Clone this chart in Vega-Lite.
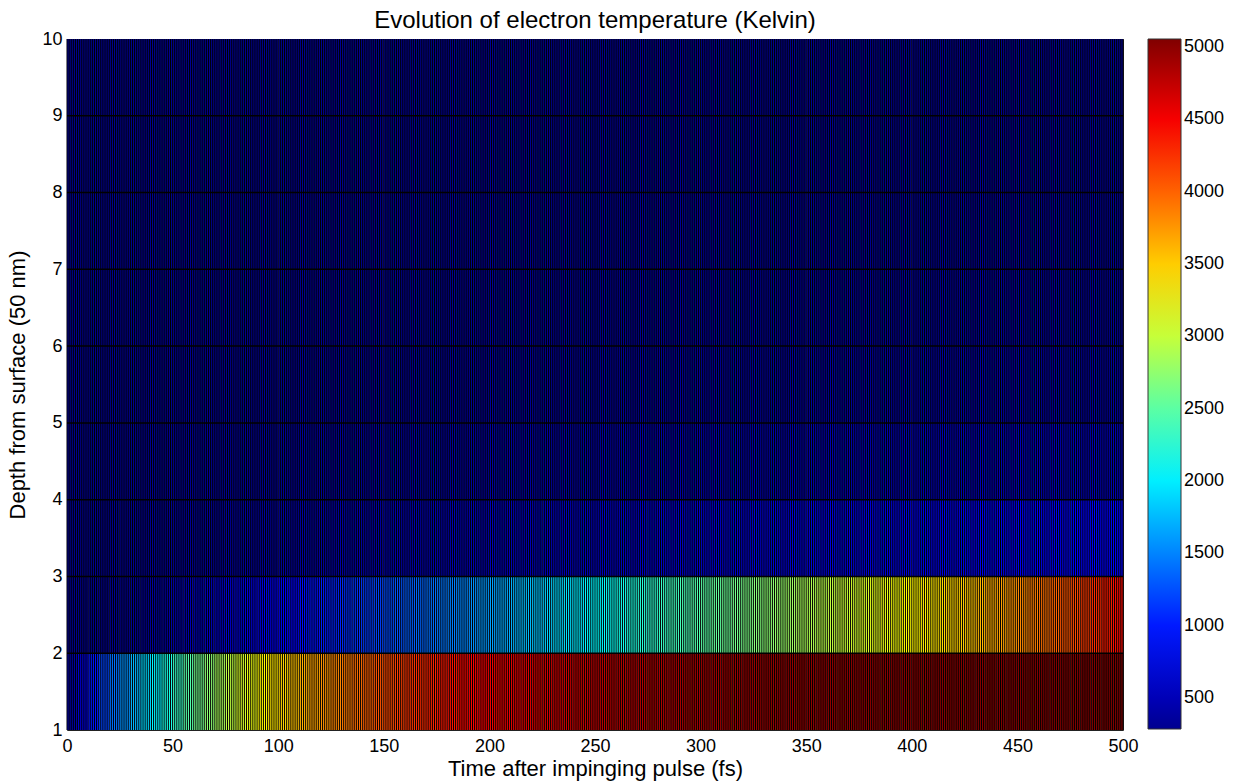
{
"$schema": "https://vega.github.io/schema/vega-lite/v6.json",
"autosize": {"type": "none"},
"width": 1056,
"height": 691,
"padding": {"left": 67, "top": 39, "right": 115, "bottom": 54},
"background": "white",
"config": {
  "view": {"stroke": "#222", "strokeWidth": 1},
  "font": "Liberation Sans",
  "axis": {"labelFont": "Liberation Sans", "titleFont": "Liberation Sans", "labelColor": "#000", "titleColor": "#000", "titleFontWeight": "normal", "grid": false, "ticks": false, "domain": false}
},
"title": {"text": "Evolution of electron temperature (Kelvin)", "fontSize": 24, "fontWeight": "normal", "font": "Liberation Sans", "color": "#000", "offset": -3},
"datasets": {
  "cells": [
{"t":0,"e":5,"d":1,"f":2,"v":430},{"t":5,"e":10,"d":1,"f":2,"v":700},{"t":10,"e":15,"d":1,"f":2,"v":975},{"t":15,"e":20,"d":1,"f":2,"v":1200},{"t":20,"e":25,"d":1,"f":2,"v":1390},
{"t":25,"e":30,"d":1,"f":2,"v":1565},{"t":30,"e":35,"d":1,"f":2,"v":1730},{"t":35,"e":40,"d":1,"f":2,"v":1885},{"t":40,"e":45,"d":1,"f":2,"v":2035},{"t":45,"e":50,"d":1,"f":2,"v":2185},
{"t":50,"e":55,"d":1,"f":2,"v":2330},{"t":55,"e":60,"d":1,"f":2,"v":2470},{"t":60,"e":65,"d":1,"f":2,"v":2605},{"t":65,"e":70,"d":1,"f":2,"v":2730},{"t":70,"e":75,"d":1,"f":2,"v":2850},
{"t":75,"e":80,"d":1,"f":2,"v":2965},{"t":80,"e":85,"d":1,"f":2,"v":3075},{"t":85,"e":90,"d":1,"f":2,"v":3180},{"t":90,"e":95,"d":1,"f":2,"v":3280},{"t":95,"e":100,"d":1,"f":2,"v":3375},
{"t":100,"e":105,"d":1,"f":2,"v":3460},{"t":105,"e":110,"d":1,"f":2,"v":3550},{"t":110,"e":115,"d":1,"f":2,"v":3625},{"t":115,"e":120,"d":1,"f":2,"v":3695},{"t":120,"e":125,"d":1,"f":2,"v":3765},
{"t":125,"e":130,"d":1,"f":2,"v":3830},{"t":130,"e":135,"d":1,"f":2,"v":3890},{"t":135,"e":140,"d":1,"f":2,"v":3950},{"t":140,"e":145,"d":1,"f":2,"v":4010},{"t":145,"e":150,"d":1,"f":2,"v":4065},
{"t":150,"e":155,"d":1,"f":2,"v":4115},{"t":155,"e":160,"d":1,"f":2,"v":4165},{"t":160,"e":165,"d":1,"f":2,"v":4215},{"t":165,"e":170,"d":1,"f":2,"v":4260},{"t":170,"e":175,"d":1,"f":2,"v":4300},
{"t":175,"e":180,"d":1,"f":2,"v":4340},{"t":180,"e":185,"d":1,"f":2,"v":4380},{"t":185,"e":190,"d":1,"f":2,"v":4420},{"t":190,"e":195,"d":1,"f":2,"v":4460},{"t":195,"e":200,"d":1,"f":2,"v":4495},
{"t":200,"e":205,"d":1,"f":2,"v":4525},{"t":205,"e":210,"d":1,"f":2,"v":4550},{"t":210,"e":215,"d":1,"f":2,"v":4580},{"t":215,"e":220,"d":1,"f":2,"v":4605},{"t":220,"e":225,"d":1,"f":2,"v":4630},
{"t":225,"e":230,"d":1,"f":2,"v":4655},{"t":230,"e":235,"d":1,"f":2,"v":4675},{"t":235,"e":240,"d":1,"f":2,"v":4700},{"t":240,"e":245,"d":1,"f":2,"v":4720},{"t":245,"e":250,"d":1,"f":2,"v":4740},
{"t":250,"e":255,"d":1,"f":2,"v":4755},{"t":255,"e":260,"d":1,"f":2,"v":4770},{"t":260,"e":265,"d":1,"f":2,"v":4790},{"t":265,"e":270,"d":1,"f":2,"v":4805},{"t":270,"e":275,"d":1,"f":2,"v":4820},
{"t":275,"e":280,"d":1,"f":2,"v":4835},{"t":280,"e":285,"d":1,"f":2,"v":4845},{"t":285,"e":290,"d":1,"f":2,"v":4860},{"t":290,"e":295,"d":1,"f":2,"v":4870},{"t":295,"e":300,"d":1,"f":2,"v":4885},
{"t":300,"e":305,"d":1,"f":2,"v":4895},{"t":305,"e":310,"d":1,"f":2,"v":4905},{"t":310,"e":315,"d":1,"f":2,"v":4915},{"t":315,"e":320,"d":1,"f":2,"v":4925},{"t":320,"e":325,"d":1,"f":2,"v":4930},
{"t":325,"e":330,"d":1,"f":2,"v":4940},{"t":330,"e":335,"d":1,"f":2,"v":4945},{"t":335,"e":340,"d":1,"f":2,"v":4955},{"t":340,"e":345,"d":1,"f":2,"v":4960},{"t":345,"e":350,"d":1,"f":2,"v":4965},
{"t":350,"e":355,"d":1,"f":2,"v":4970},{"t":355,"e":360,"d":1,"f":2,"v":4975},{"t":360,"e":365,"d":1,"f":2,"v":4980},{"t":365,"e":370,"d":1,"f":2,"v":4985},{"t":370,"e":375,"d":1,"f":2,"v":4990},
{"t":375,"e":380,"d":1,"f":2,"v":4990},{"t":380,"e":385,"d":1,"f":2,"v":4995},{"t":385,"e":390,"d":1,"f":2,"v":5000},{"t":390,"e":395,"d":1,"f":2,"v":5005},{"t":395,"e":400,"d":1,"f":2,"v":5010},
{"t":400,"e":405,"d":1,"f":2,"v":5010},{"t":405,"e":410,"d":1,"f":2,"v":5015},{"t":410,"e":415,"d":1,"f":2,"v":5015},{"t":415,"e":420,"d":1,"f":2,"v":5020},{"t":420,"e":425,"d":1,"f":2,"v":5025},
{"t":425,"e":430,"d":1,"f":2,"v":5025},{"t":430,"e":435,"d":1,"f":2,"v":5030},{"t":435,"e":440,"d":1,"f":2,"v":5030},{"t":440,"e":445,"d":1,"f":2,"v":5035},{"t":445,"e":450,"d":1,"f":2,"v":5035},
{"t":450,"e":455,"d":1,"f":2,"v":5040},{"t":455,"e":460,"d":1,"f":2,"v":5040},{"t":460,"e":465,"d":1,"f":2,"v":5045},{"t":465,"e":470,"d":1,"f":2,"v":5045},{"t":470,"e":475,"d":1,"f":2,"v":5045},
{"t":475,"e":480,"d":1,"f":2,"v":5050},{"t":480,"e":485,"d":1,"f":2,"v":5050},{"t":485,"e":490,"d":1,"f":2,"v":5050},{"t":490,"e":495,"d":1,"f":2,"v":5055},{"t":495,"e":500,"d":1,"f":2,"v":5055},
{"t":0,"e":5,"d":2,"f":3,"v":300},{"t":5,"e":10,"d":2,"f":3,"v":305},{"t":10,"e":15,"d":2,"f":3,"v":310},{"t":15,"e":20,"d":2,"f":3,"v":315},{"t":20,"e":25,"d":2,"f":3,"v":320},
{"t":25,"e":30,"d":2,"f":3,"v":335},{"t":30,"e":35,"d":2,"f":3,"v":350},{"t":35,"e":40,"d":2,"f":3,"v":370},{"t":40,"e":45,"d":2,"f":3,"v":395},{"t":45,"e":50,"d":2,"f":3,"v":420},
{"t":50,"e":55,"d":2,"f":3,"v":460},{"t":55,"e":60,"d":2,"f":3,"v":495},{"t":60,"e":65,"d":2,"f":3,"v":535},{"t":65,"e":70,"d":2,"f":3,"v":575},{"t":70,"e":75,"d":2,"f":3,"v":615},
{"t":75,"e":80,"d":2,"f":3,"v":660},{"t":80,"e":85,"d":2,"f":3,"v":700},{"t":85,"e":90,"d":2,"f":3,"v":740},{"t":90,"e":95,"d":2,"f":3,"v":780},{"t":95,"e":100,"d":2,"f":3,"v":820},
{"t":100,"e":105,"d":2,"f":3,"v":860},{"t":105,"e":110,"d":2,"f":3,"v":895},{"t":110,"e":115,"d":2,"f":3,"v":930},{"t":115,"e":120,"d":2,"f":3,"v":965},{"t":120,"e":125,"d":2,"f":3,"v":1000},
{"t":125,"e":130,"d":2,"f":3,"v":1040},{"t":130,"e":135,"d":2,"f":3,"v":1080},{"t":135,"e":140,"d":2,"f":3,"v":1115},{"t":140,"e":145,"d":2,"f":3,"v":1155},{"t":145,"e":150,"d":2,"f":3,"v":1190},
{"t":150,"e":155,"d":2,"f":3,"v":1230},{"t":155,"e":160,"d":2,"f":3,"v":1270},{"t":160,"e":165,"d":2,"f":3,"v":1310},{"t":165,"e":170,"d":2,"f":3,"v":1350},{"t":170,"e":175,"d":2,"f":3,"v":1390},
{"t":175,"e":180,"d":2,"f":3,"v":1430},{"t":180,"e":185,"d":2,"f":3,"v":1470},{"t":185,"e":190,"d":2,"f":3,"v":1510},{"t":190,"e":195,"d":2,"f":3,"v":1550},{"t":195,"e":200,"d":2,"f":3,"v":1590},
{"t":200,"e":205,"d":2,"f":3,"v":1630},{"t":205,"e":210,"d":2,"f":3,"v":1675},{"t":210,"e":215,"d":2,"f":3,"v":1720},{"t":215,"e":220,"d":2,"f":3,"v":1765},{"t":220,"e":225,"d":2,"f":3,"v":1805},
{"t":225,"e":230,"d":2,"f":3,"v":1850},{"t":230,"e":235,"d":2,"f":3,"v":1895},{"t":235,"e":240,"d":2,"f":3,"v":1940},{"t":240,"e":245,"d":2,"f":3,"v":1985},{"t":245,"e":250,"d":2,"f":3,"v":2025},
{"t":250,"e":255,"d":2,"f":3,"v":2070},{"t":255,"e":260,"d":2,"f":3,"v":2115},{"t":260,"e":265,"d":2,"f":3,"v":2160},{"t":265,"e":270,"d":2,"f":3,"v":2205},{"t":270,"e":275,"d":2,"f":3,"v":2250},
{"t":275,"e":280,"d":2,"f":3,"v":2290},{"t":280,"e":285,"d":2,"f":3,"v":2330},{"t":285,"e":290,"d":2,"f":3,"v":2370},{"t":290,"e":295,"d":2,"f":3,"v":2410},{"t":295,"e":300,"d":2,"f":3,"v":2450},
{"t":300,"e":305,"d":2,"f":3,"v":2490},{"t":305,"e":310,"d":2,"f":3,"v":2530},{"t":310,"e":315,"d":2,"f":3,"v":2570},{"t":315,"e":320,"d":2,"f":3,"v":2610},{"t":320,"e":325,"d":2,"f":3,"v":2650},
{"t":325,"e":330,"d":2,"f":3,"v":2690},{"t":330,"e":335,"d":2,"f":3,"v":2730},{"t":335,"e":340,"d":2,"f":3,"v":2770},{"t":340,"e":345,"d":2,"f":3,"v":2810},{"t":345,"e":350,"d":2,"f":3,"v":2850},
{"t":350,"e":355,"d":2,"f":3,"v":2890},{"t":355,"e":360,"d":2,"f":3,"v":2930},{"t":360,"e":365,"d":2,"f":3,"v":2970},{"t":365,"e":370,"d":2,"f":3,"v":3010},{"t":370,"e":375,"d":2,"f":3,"v":3050},
{"t":375,"e":380,"d":2,"f":3,"v":3090},{"t":380,"e":385,"d":2,"f":3,"v":3130},{"t":385,"e":390,"d":2,"f":3,"v":3175},{"t":390,"e":395,"d":2,"f":3,"v":3215},{"t":395,"e":400,"d":2,"f":3,"v":3260},
{"t":400,"e":405,"d":2,"f":3,"v":3300},{"t":405,"e":410,"d":2,"f":3,"v":3345},{"t":410,"e":415,"d":2,"f":3,"v":3390},{"t":415,"e":420,"d":2,"f":3,"v":3440},{"t":420,"e":425,"d":2,"f":3,"v":3485},
{"t":425,"e":430,"d":2,"f":3,"v":3535},{"t":430,"e":435,"d":2,"f":3,"v":3590},{"t":435,"e":440,"d":2,"f":3,"v":3645},{"t":440,"e":445,"d":2,"f":3,"v":3700},{"t":445,"e":450,"d":2,"f":3,"v":3760},
{"t":450,"e":455,"d":2,"f":3,"v":3815},{"t":455,"e":460,"d":2,"f":3,"v":3875},{"t":460,"e":465,"d":2,"f":3,"v":3935},{"t":465,"e":470,"d":2,"f":3,"v":3995},{"t":470,"e":475,"d":2,"f":3,"v":4055},
{"t":475,"e":480,"d":2,"f":3,"v":4120},{"t":480,"e":485,"d":2,"f":3,"v":4190},{"t":485,"e":490,"d":2,"f":3,"v":4260},{"t":490,"e":495,"d":2,"f":3,"v":4330},{"t":495,"e":500,"d":2,"f":3,"v":4410},
{"t":0,"e":25,"d":3,"f":4,"v":300},{"t":25,"e":50,"d":3,"f":4,"v":310},{"t":50,"e":75,"d":3,"f":4,"v":330},{"t":75,"e":100,"d":3,"f":4,"v":360},{"t":100,"e":125,"d":3,"f":4,"v":390},
{"t":125,"e":150,"d":3,"f":4,"v":420},{"t":150,"e":175,"d":3,"f":4,"v":450},{"t":175,"e":200,"d":3,"f":4,"v":480},{"t":200,"e":225,"d":3,"f":4,"v":510},{"t":225,"e":250,"d":3,"f":4,"v":540},
{"t":250,"e":275,"d":3,"f":4,"v":570},{"t":275,"e":300,"d":3,"f":4,"v":600},{"t":300,"e":325,"d":3,"f":4,"v":630},{"t":325,"e":350,"d":3,"f":4,"v":660},{"t":350,"e":375,"d":3,"f":4,"v":690},
{"t":375,"e":400,"d":3,"f":4,"v":720},{"t":400,"e":425,"d":3,"f":4,"v":750},{"t":425,"e":450,"d":3,"f":4,"v":790},{"t":450,"e":475,"d":3,"f":4,"v":830},{"t":475,"e":500,"d":3,"f":4,"v":880},
{"t":0,"e":50,"d":4,"f":5,"v":300},{"t":50,"e":100,"d":4,"f":5,"v":320},{"t":100,"e":150,"d":4,"f":5,"v":340},{"t":150,"e":200,"d":4,"f":5,"v":360},{"t":200,"e":250,"d":4,"f":5,"v":385},
{"t":250,"e":300,"d":4,"f":5,"v":410},{"t":300,"e":350,"d":4,"f":5,"v":430},{"t":350,"e":400,"d":4,"f":5,"v":455},{"t":400,"e":450,"d":4,"f":5,"v":480},{"t":450,"e":500,"d":4,"f":5,"v":505},
{"t":0,"e":50,"d":5,"f":6,"v":300},{"t":50,"e":100,"d":5,"f":6,"v":305},{"t":100,"e":150,"d":5,"f":6,"v":315},{"t":150,"e":200,"d":5,"f":6,"v":325},{"t":200,"e":250,"d":5,"f":6,"v":335},
{"t":250,"e":300,"d":5,"f":6,"v":345},{"t":300,"e":350,"d":5,"f":6,"v":355},{"t":350,"e":400,"d":5,"f":6,"v":365},{"t":400,"e":450,"d":5,"f":6,"v":375},{"t":450,"e":500,"d":5,"f":6,"v":385},
{"t":0,"e":50,"d":6,"f":7,"v":300},{"t":50,"e":100,"d":6,"f":7,"v":302},{"t":100,"e":150,"d":6,"f":7,"v":306},{"t":150,"e":200,"d":6,"f":7,"v":312},{"t":200,"e":250,"d":6,"f":7,"v":318},
{"t":250,"e":300,"d":6,"f":7,"v":324},{"t":300,"e":350,"d":6,"f":7,"v":330},{"t":350,"e":400,"d":6,"f":7,"v":336},{"t":400,"e":450,"d":6,"f":7,"v":342},{"t":450,"e":500,"d":6,"f":7,"v":348},
{"t":0,"e":50,"d":7,"f":8,"v":300},{"t":50,"e":100,"d":7,"f":8,"v":301},{"t":100,"e":150,"d":7,"f":8,"v":303},{"t":150,"e":200,"d":7,"f":8,"v":306},{"t":200,"e":250,"d":7,"f":8,"v":309},
{"t":250,"e":300,"d":7,"f":8,"v":312},{"t":300,"e":350,"d":7,"f":8,"v":315},{"t":350,"e":400,"d":7,"f":8,"v":318},{"t":400,"e":450,"d":7,"f":8,"v":321},{"t":450,"e":500,"d":7,"f":8,"v":324},
{"t":0,"e":50,"d":8,"f":9,"v":300},{"t":50,"e":100,"d":8,"f":9,"v":300},{"t":100,"e":150,"d":8,"f":9,"v":301},{"t":150,"e":200,"d":8,"f":9,"v":302},{"t":200,"e":250,"d":8,"f":9,"v":304},
{"t":250,"e":300,"d":8,"f":9,"v":306},{"t":300,"e":350,"d":8,"f":9,"v":308},{"t":350,"e":400,"d":8,"f":9,"v":310},{"t":400,"e":450,"d":8,"f":9,"v":312},{"t":450,"e":500,"d":8,"f":9,"v":314},
{"t":0,"e":50,"d":9,"f":10,"v":300},{"t":50,"e":100,"d":9,"f":10,"v":300},{"t":100,"e":150,"d":9,"f":10,"v":300},{"t":150,"e":200,"d":9,"f":10,"v":301},{"t":200,"e":250,"d":9,"f":10,"v":302},
{"t":250,"e":300,"d":9,"f":10,"v":303},{"t":300,"e":350,"d":9,"f":10,"v":304},{"t":350,"e":400,"d":9,"f":10,"v":305},{"t":400,"e":450,"d":9,"f":10,"v":306},{"t":450,"e":500,"d":9,"f":10,"v":307}
  ],
  "tedges": [0,1,2,3,4,5,6,7,8,9,10,11,12,13,14,15,16,17,18,19,20,21,22,23,24,25,26,27,28,29,30,31,32,33,34,35,36,37,38,39,40,41,42,43,44,45,46,47,48,49,50,51,52,53,54,55,56,57,58,59,60,61,62,63,64,65,66,67,68,69,70,71,72,73,74,75,76,77,78,79,80,81,82,83,84,85,86,87,88,89,90,91,92,93,94,95,96,97,98,99,100,101,102,103,104,105,106,107,108,109,110,111,112,113,114,115,116,117,118,119,120,121,122,123,124,125,126,127,128,129,130,131,132,133,134,135,136,137,138,139,140,141,142,143,144,145,146,147,148,149,150,151,152,153,154,155,156,157,158,159,160,161,162,163,164,165,166,167,168,169,170,171,172,173,174,175,176,177,178,179,180,181,182,183,184,185,186,187,188,189,190,191,192,193,194,195,196,197,198,199,200,201,202,203,204,205,206,207,208,209,210,211,212,213,214,215,216,217,218,219,220,221,222,223,224,225,226,227,228,229,230,231,232,233,234,235,236,237,238,239,240,241,242,243,244,245,246,247,248,249,250,251,252,253,254,255,256,257,258,259,260,261,262,263,264,265,266,267,268,269,270,271,272,273,274,275,276,277,278,279,280,281,282,283,284,285,286,287,288,289,290,291,292,293,294,295,296,297,298,299,300,301,302,303,304,305,306,307,308,309,310,311,312,313,314,315,316,317,318,319,320,321,322,323,324,325,326,327,328,329,330,331,332,333,334,335,336,337,338,339,340,341,342,343,344,345,346,347,348,349,350,351,352,353,354,355,356,357,358,359,360,361,362,363,364,365,366,367,368,369,370,371,372,373,374,375,376,377,378,379,380,381,382,383,384,385,386,387,388,389,390,391,392,393,394,395,396,397,398,399,400,401,402,403,404,405,406,407,408,409,410,411,412,413,414,415,416,417,418,419,420,421,422,423,424,425,426,427,428,429,430,431,432,433,434,435,436,437,438,439,440,441,442,443,444,445,446,447,448,449,450,451,452,453,454,455,456,457,458,459,460,461,462,463,464,465,466,467,468,469,470,471,472,473,474,475,476,477,478,479,480,481,482,483,484,485,486,487,488,489,490,491,492,493,494,495,496,497,498,499,500],
  "dedges": [2,3,4,5,6,7,8,9]
},
"encoding": {
  "x": {"type": "quantitative", "scale": {"domain": [0, 500], "nice": false, "zero": false},
        "axis": {"values": [0,50,100,150,200,250,300,350,400,450,500], "title": "Time after impinging pulse (fs)", "labelFontSize": 18, "titleFontSize": 22, "labelPadding": 7, "titlePadding": 3, "labelFlush": false, "format": "d"}},
  "y": {"type": "quantitative", "scale": {"domain": [1, 10], "nice": false, "zero": false},
        "axis": {"values": [1,2,3,4,5,6,7,8,9,10], "title": "Depth from surface (50 nm)", "labelFontSize": 18, "titleFontSize": 22, "labelPadding": 5, "titlePadding": 12, "labelFlush": false, "format": "d"}}
},
"layer": [
  {
    "data": {"name": "cells"},
    "mark": {"type": "rect", "strokeWidth": 0},
    "encoding": {
      "x": {"field": "t", "type": "quantitative", "title": "Time after impinging pulse (fs)"},
      "x2": {"field": "e"},
      "y": {"field": "d", "type": "quantitative", "title": "Depth from surface (50 nm)"},
      "y2": {"field": "f"},
      "color": {"field": "v", "type": "quantitative",
        "scale": {"domain": [286, 882, 2074, 3267, 4459, 5055], "range": ["#00008f", "#0000ff", "#00ffff", "#ffff00", "#ff0000", "#800000"], "interpolate": "rgb"},
        "legend": {"title": null, "orient": "right", "offset": 25, "padding": 0, "gradientLength": 690, "gradientThickness": 33, "values": [500,1000,1500,2000,2500,3000,3500,4000,4500,5000], "format": "d", "labelFontSize": 18, "labelFont": "Liberation Sans", "labelColor": "#000", "labelOffset": 3, "gradientStrokeColor": "#333", "gradientStrokeWidth": 1}}
    }
  },
  {
    "data": {"name": "tedges"},
    "mark": {"type": "rule", "color": "#000", "strokeWidth": 1},
    "encoding": {"x": {"field": "data", "type": "quantitative", "title": "Time after impinging pulse (fs)"}}
  },
  {
    "data": {"name": "dedges"},
    "mark": {"type": "rule", "color": "#000", "strokeWidth": 1.5},
    "encoding": {"y": {"field": "data", "type": "quantitative", "title": "Depth from surface (50 nm)"}}
  }
]
}
